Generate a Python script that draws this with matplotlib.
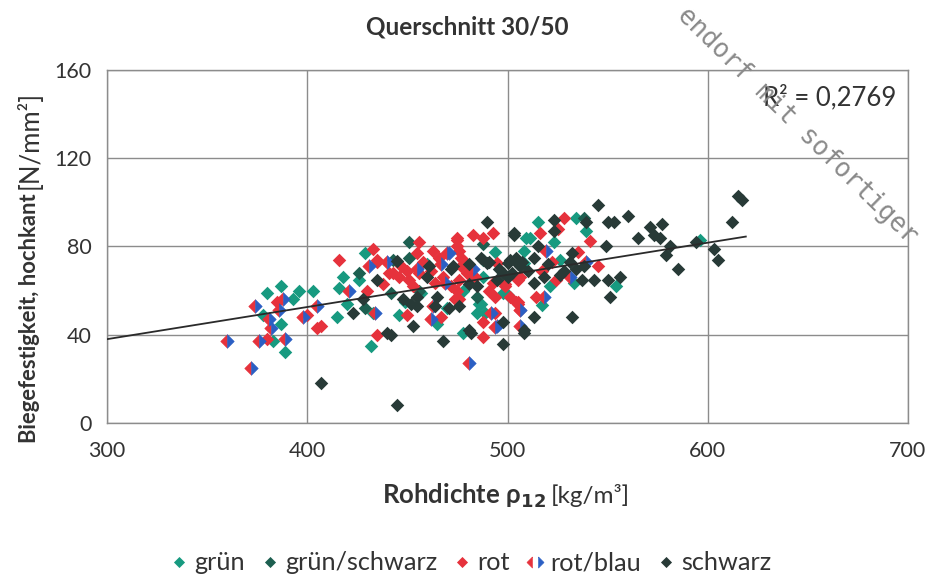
import numpy as np
import matplotlib.pyplot as plt
from matplotlib.lines import Line2D
from matplotlib.legend_handler import HandlerTuple

plt.rcParams['font.family'] = ['Lato', 'DejaVu Sans']

# values (density kg/m3, bending strength N/mm2)
gruen_x = [387, 380, 396, 403, 393, 378, 387, 383, 389, 509, 429, 416, 418, 426, 420, 415,
           446, 465, 486, 489, 478, 432, 508, 534, 515, 539, 511, 523, 508, 526, 521, 533,
           554, 517, 498, 596, 433, 449, 457, 470, 460, 494, 488, 478, 500, 487, 485]
gruen_y = [62, 59, 60, 60, 56, 49, 45, 37, 32, 84, 77, 61, 66, 65, 54, 48,
           49, 45, 54, 50, 41, 35, 72.5, 93, 91, 87, 84, 82, 78, 74, 62, 63.5,
           62, 53.5, 59, 83, 50, 55, 59, 52, 72, 77.5, 66, 60, 58, 54, 50]

gruen_schwarz_x = [451, 451, 488, 442, 429, 456, 485, 538, 426, 443, 488]
gruen_schwarz_y = [82, 75, 74, 59, 52, 60, 57, 93, 68, 74, 81]

rot_x = [385, 400, 405, 380, 456, 475, 483, 488, 493, 433, 416, 463, 475, 477, 435, 455,
         443, 450, 477, 495, 430, 438, 407, 450, 467, 476, 475, 488, 494, 505, 506, 488,
         435, 456, 446, 451, 464, 476, 491, 505, 501, 528, 525, 516, 541, 535, 522, 545,
         517, 524, 505, 514, 499, 441, 435, 475, 476, 478, 480, 506, 493, 499, 474, 494, 504,
         462, 468, 458, 472, 447, 484, 466, 453]
rot_y = [55, 49, 43, 38, 82, 84, 85, 84, 86, 79, 74, 78, 80, 75, 73, 77,
         68, 69, 71, 72.5, 60, 63, 44, 49, 48, 56, 60, 46, 50, 54, 51, 39,
         40, 68, 66, 65, 63.5, 65, 60, 65, 57, 93, 88, 86, 82.5, 77.5, 73, 71,
         69, 65, 55, 57, 63, 68, 74, 83, 78, 74, 68, 66, 63.5, 62, 56, 57, 55,
         69, 66, 73, 62, 71, 66, 75, 62]

rot_blau_x = [360, 372, 388, 374, 386, 381, 382, 398, 376, 389, 470, 440, 455, 467, 421, 405,
              434, 463, 495, 481, 431, 469, 519, 539, 531, 518, 506, 506, 462, 471, 483, 494, 492]
rot_blau_y = [37, 25, 56, 53, 51, 47, 43, 48, 37, 38, 77, 73, 70, 72, 60, 53,
              50, 53, 44, 27, 71, 63.5, 78, 73, 66, 57, 51, 44, 47, 77, 70, 43.5, 50]

schwarz_x = [407, 490, 503, 445, 461, 472, 481, 490, 501, 505, 428, 423, 453, 448, 455, 465,
             471, 481, 508, 481, 468, 498, 440, 442, 445, 460, 435, 500, 495,
             545, 560, 550, 553, 571, 577, 565, 573, 576, 581, 579, 585, 594, 603, 605, 612,
             615, 617, 549, 523, 539, 503, 523, 515, 532, 513, 531, 528, 538, 506, 500, 513,
             518, 537, 543, 550, 556, 551, 532, 513, 508, 498,
             452, 455, 464, 482, 502, 496, 507, 504, 487, 491, 473, 485, 476,
             510, 520, 526, 498, 534]
schwarz_y = [18, 91, 86, 73.5, 71, 70, 72, 72.5, 74, 72, 56, 50, 44, 56, 57, 57,
             52, 63, 42, 42, 37, 36, 41, 40, 8, 66, 65, 66, 65,
             99, 94, 91, 91, 89, 90, 84, 85, 84, 80, 76, 70, 82, 79, 74, 91,
             103, 101, 80, 92, 91, 85, 87, 80, 77, 75, 73, 69, 71, 71, 72.5, 63.5,
             66, 65, 65, 65, 66, 57, 48, 48, 41, 46,
             54, 53, 53, 41, 68, 70, 73, 75, 75, 73, 71, 62, 53,
             69, 72, 67, 68, 70]

trend_x = [300, 619]
trend_y = [38, 84.5]
r2_text = 'R² = 0,2769'

x_ticks = [300, 400, 500, 600, 700]
y_ticks = [0, 40, 80, 120, 160]

c_gruen = '#179a80'
c_gruen_schwarz = '#1d5f50'
c_rot = '#e6323c'
c_blau = '#2b5fc4'
c_schwarz = '#283a37'
txt = '#333333'

diamond = [(0, 1), (-1, 0), (0, -1), (1, 0), (0, 1)]
left_half = [(0, 1), (-1, 0), (0, -1), (0, 1)]
right_half = [(0, 1), (1, 0), (0, -1), (0, 1)]

fig = plt.figure(figsize=(9.32, 5.76), dpi=100)
ax = fig.add_axes([107 / 932, 1 - 423 / 576, 801 / 932, 353 / 576])

ms = 95
ax.scatter(gruen_x, gruen_y, s=ms, marker=diamond, color=c_gruen, linewidths=0, zorder=3)
ax.scatter(gruen_schwarz_x, gruen_schwarz_y, s=ms, marker=diamond, color=c_gruen_schwarz,
           linewidths=0, zorder=3)
ax.scatter(rot_x, rot_y, s=ms, marker=diamond, color=c_rot, linewidths=0, zorder=3)
# rot/blau: red left half, blue right half (small edge closes the seam)
ax.scatter(rot_blau_x, rot_blau_y, s=ms, marker=left_half, color=c_rot, edgecolors=c_rot,
           linewidths=0.4, zorder=3)
ax.scatter(rot_blau_x, rot_blau_y, s=ms, marker=right_half, color=c_blau, edgecolors=c_blau,
           linewidths=0.4, zorder=3)
ax.scatter(schwarz_x, schwarz_y, s=ms, marker=diamond, color=c_schwarz, linewidths=0, zorder=3)

ax.plot(trend_x, trend_y, color='#2a2a2a', lw=1.3, zorder=4)

ax.set_xlim(300, 700)
ax.set_ylim(0, 160)
ax.set_xticks(x_ticks)
ax.set_yticks(y_ticks)
ax.grid(color='#8c8c8c', lw=1)
ax.set_axisbelow(True)
for sp in ax.spines.values():
    sp.set_color('#8c8c8c')
    sp.set_linewidth(1)
ax.tick_params(length=0, labelsize=15.5, colors=txt)
ax.tick_params(axis='y', pad=11)
ax.tick_params(axis='x', pad=13)

ax.text(0.986, 0.923, r2_text, transform=ax.transAxes, ha='right', va='center',
        fontsize=18.5, color=txt)

fig.text(467 / 932, 1 - 27 / 576, 'Querschnitt 30/50', ha='center', va='center',
         fontsize=17.5, fontweight='bold', color=txt)

# axis titles: bold part + regular unit part
fig.text(546 / 932, 1 - 503 / 576, 'Rohdichte ρ$_{\\mathbf{12}}$', ha='right', va='baseline',
         fontsize=18.5, fontweight='bold', color=txt)
fig.text(551 / 932, 1 - 503 / 576, '[kg/m³]', ha='left', va='baseline', fontsize=17.5, color=txt)
fig.text(30 / 932, 1 - 193 / 576, 'Biegefestigkeit, hochkant', rotation=90, ha='center',
         va='top', fontsize=15.8, fontweight='bold', color=txt)
fig.text(30 / 932, 1 - 189 / 576, '[N/mm²]', rotation=90, ha='center', va='bottom',
         fontsize=18.5, color=txt)

# stamp across the top right corner of the scan
fig.text(690 / 932, 1 - 2 / 576, 'endorf mit sofortiger', rotation=-44.5, rotation_mode='anchor',
         ha='left', va='top', family='DejaVu Sans Mono', fontsize=18.5, color='#8a8a8a')

handles = [
    Line2D([], [], ls='none', marker=diamond, ms=8, color=c_gruen, mew=0),
    Line2D([], [], ls='none', marker=diamond, ms=8, color=c_gruen_schwarz, mew=0),
    Line2D([], [], ls='none', marker=diamond, ms=8, color=c_rot, mew=0),
    (Line2D([], [], ls='none', marker=left_half, ms=8, color=c_rot, mew=0.4),
     Line2D([], [], ls='none', marker=right_half, ms=8, color=c_blau, mew=0.4)),
    Line2D([], [], ls='none', marker=diamond, ms=8, color=c_schwarz, mew=0),
]
labels = ['grün', 'grün/schwarz', 'rot', 'rot/blau', 'schwarz']
leg = fig.legend(handles, labels, loc='center', bbox_to_anchor=(472 / 932, 1 - 563 / 576),
                 ncol=5, frameon=False, fontsize=18.2, handletextpad=0.35, columnspacing=0.75,
                 handlelength=0.5, handler_map={tuple: HandlerTuple(ndivide=None, pad=0)})
for t in leg.get_texts():
    t.set_color(txt)

fig.savefig('out.png', dpi=100)
